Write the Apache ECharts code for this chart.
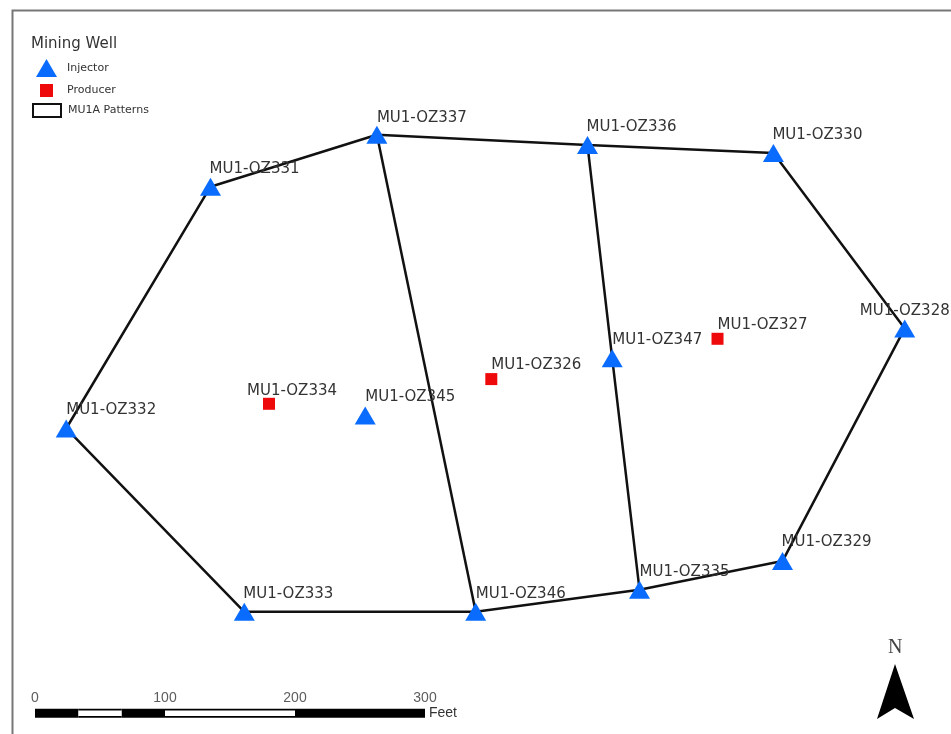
<!DOCTYPE html>
<html><head><meta charset="utf-8">
<style>html,body{margin:0;padding:0;background:#fff}#c{width:951px;height:734px;filter:blur(0.45px)}</style>
<script src="https://cdn.jsdelivr.net/npm/echarts@6/dist/echarts.min.js"></script>
</head><body><div id="c"></div>
<script>
// Map coordinates in feet
const injectorNames = ['MU1-OZ337','MU1-OZ336','MU1-OZ330','MU1-OZ331','MU1-OZ328','MU1-OZ347','MU1-OZ345','MU1-OZ332','MU1-OZ329','MU1-OZ335','MU1-OZ346','MU1-OZ333'];
const injectorEast  = [263,425,568,135,669,444,254,24,575,465,339,161];
const injectorNorth = [461,453,447,421,312,289,245,235,133,111,94,94];
const producerNames = ['MU1-OZ327','MU1-OZ326','MU1-OZ334'];
const producerEast  = [525,351,180];
const producerNorth = [304,273,254];
const patternPaths = [
  ['MU1-OZ332','MU1-OZ331','MU1-OZ337','MU1-OZ336','MU1-OZ330','MU1-OZ328','MU1-OZ329','MU1-OZ335','MU1-OZ346','MU1-OZ333','MU1-OZ332'],
  ['MU1-OZ337','MU1-OZ346'],
  ['MU1-OZ336','MU1-OZ347','MU1-OZ335']
];
const scaleTicks = [0,100,200,300];
const scaleBlack = [[0,33.3],[66.7,100],[200,300]];
const scaleWhite = [[33.3,66.7],[100,200]];
const scaleNorth = 16;

// label offsets from each well, in pixels (left edge, vertical middle)
const labelOffset = {
 'MU1-OZ337':[0,-17],'MU1-OZ336':[-1,-18],'MU1-OZ330':[-1,-18],'MU1-OZ331':[-1,-18],
 'MU1-OZ328':[-45,-17],'MU1-OZ347':[0,-18],'MU1-OZ345':[0,-18],'MU1-OZ332':[0,-18],
 'MU1-OZ329':[-1,-19],'MU1-OZ335':[0,-18],'MU1-OZ346':[0,-18],'MU1-OZ333':[-1,-18],
 'MU1-OZ327':[0,-14],'MU1-OZ326':[0,-14],'MU1-OZ334':[-22,-13]
};
const FONT='"DejaVu Sans"';
const pos = {};
injectorNames.forEach((n,i)=>pos[n]=[injectorEast[i],injectorNorth[i]]);
producerNames.forEach((n,i)=>pos[n]=[producerEast[i],producerNorth[i]]);
function wellData(names,w,h){return names.map(n=>({name:n,value:pos[n],label:{position:[labelOffset[n][0]+w/2,labelOffset[n][1]+h/2]}}));}
const wellLabel={show:true,formatter:'{b}',color:'#333',fontFamily:FONT,fontSize:15,align:'left',verticalAlign:'middle'};

const series=[];
patternPaths.forEach((p,i)=>series.push({name:'MU1A Patterns',type:'line',data:p.map(n=>pos[n]),showSymbol:false,symbol:'none',
  lineStyle:{color:'#111',width:2.5},itemStyle:{color:'#fff',borderColor:'#111',borderWidth:2.5},silent:true,z:2,animation:false}));
series.push({name:'Injector',type:'scatter',symbol:'triangle',symbolSize:[21,18],data:wellData(injectorNames,21,18),itemStyle:{color:'#0a6cff',opacity:1},label:wellLabel,z:3,animation:false});
series.push({name:'Producer',type:'scatter',symbol:'rect',symbolSize:[12,12],data:wellData(producerNames,12,12),itemStyle:{color:'#ee0a0a',opacity:1},label:wellLabel,z:3,animation:false});
scaleBlack.forEach(s=>series.push({type:'line',data:s.map(x=>[x,scaleNorth]),symbol:'none',lineStyle:{color:'#000',width:9,cap:'butt'},z:4,animation:false}));
scaleWhite.forEach(s=>series.push({type:'line',data:s.map(x=>[x,scaleNorth]),symbol:'none',lineStyle:{color:'#000',width:9,cap:'butt'},z:4,animation:false}));
scaleWhite.forEach(s=>series.push({type:'line',data:s.map(x=>[x,scaleNorth]),symbol:'none',lineStyle:{color:'#fff',width:5.5,cap:'butt'},z:5,animation:false}));
series.push({type:'scatter',symbolSize:0,data:scaleTicks.map(x=>[x,scaleNorth]),z:6,animation:false,
  label:{show:true,position:'top',distance:8,formatter:p=>String(p.value[0]),fontFamily:'"Liberation Sans"',fontSize:14,color:'#333'}});

const legendText=(pad,top)=>({fontFamily:FONT,fontSize:11,color:'#333',padding:[top,0,0,pad]});
const option={
 animation:false,backgroundColor:'#fff',
 title:{text:'Mining Well',left:26,top:32,textStyle:{fontFamily:FONT,fontSize:15,fontWeight:'normal',color:'#333'}},
 legend:[
  {data:[{name:'Injector',icon:'triangle'}],left:31,top:54,itemWidth:21,itemHeight:18,textStyle:legendText(5,4),selectedMode:false},
  {data:[{name:'Producer',icon:'rect'}],left:35,top:79,itemWidth:13,itemHeight:13,textStyle:legendText(9,4),selectedMode:false},
  {data:[{name:'MU1A Patterns',icon:'rect'}],left:27,top:98,itemWidth:28,itemHeight:13,textStyle:legendText(2,4),selectedMode:false}
 ],
 grid:{left:0,right:0,top:0,bottom:0},
 xAxis:{type:'value',min:-26.92,max:704.6,show:false},
 yAxis:{type:'value',min:0,max:564.6,show:false},
 tooltip:{show:false},
 series,
 graphic:[
  {type:'polyline',silent:true,shape:{points:[[12.5,734],[12.5,10.5],[951,10.5]]},style:{fill:null,stroke:'#777',lineWidth:2}},
  {type:'text',silent:true,x:888,y:638,style:{text:'N',font:'20px "Liberation Serif"',fill:'#444'}},
  {type:'polygon',silent:true,shape:{points:[[895,664],[914,719],[895,708],[877,719]]},style:{fill:'#000'}},
  {type:'text',silent:true,x:429,y:706,style:{text:'Feet',font:'14px "Liberation Sans"',fill:'#333'}}
 ]
};
const chart=echarts.init(document.getElementById('c'),null,{renderer:'canvas'});
chart.setOption(option);
</script></body></html>
